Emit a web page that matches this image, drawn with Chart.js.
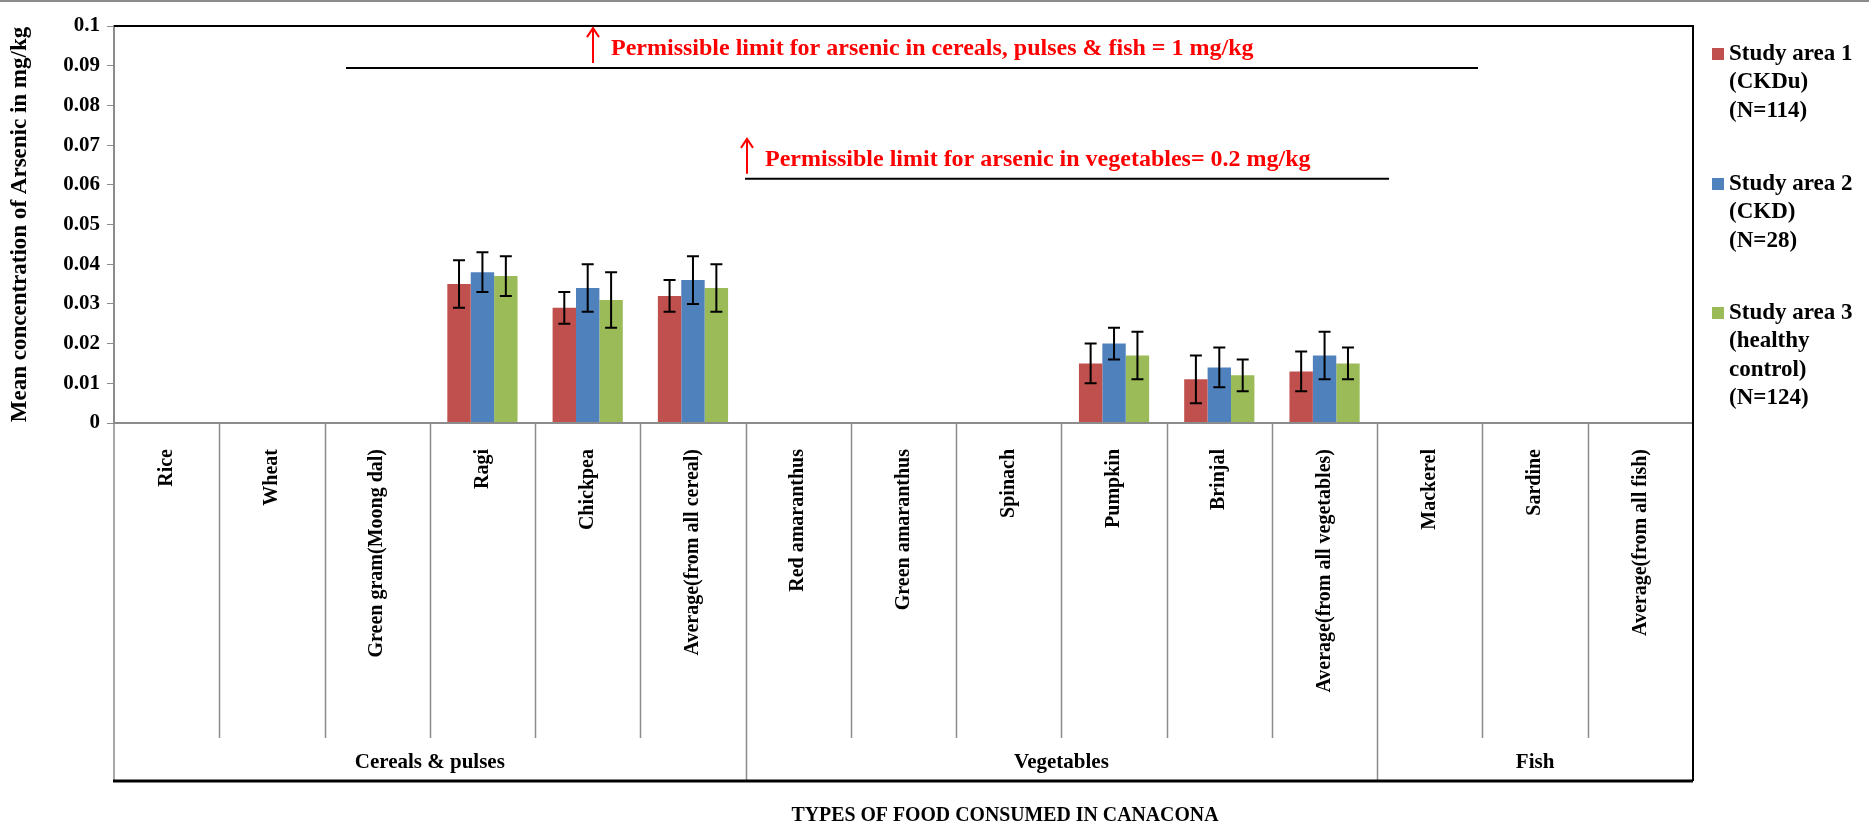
<!DOCTYPE html>
<html>
<head>
<meta charset="utf-8">
<title>Arsenic in food consumed in Canacona</title>
<script src="https://cdn.jsdelivr.net/npm/chart.js@4.4.1/dist/chart.umd.min.js"></script>
<style>
    html, body { margin: 0; padding: 0; background: #fff; }
    #myChart { display: block; }
</style>
</head>
<body>
<canvas id="myChart" width="1869" height="829"></canvas>
<script>
    var foods = ['Rice', 'Wheat', 'Green gram(Moong dal)', 'Ragi', 'Chickpea', 'Average(from all cereal)',
        'Red amaranthus', 'Green amaranthus', 'Spinach', 'Pumpkin', 'Brinjal', 'Average(from all vegetables)',
        'Mackerel', 'Sardine', 'Average(from all fish)'];
    var groups = ['Cereals & pulses', 'Vegetables', 'Fish'];
    var groupSizes = [6, 6, 3];

    // mean arsenic (mg/kg) and standard error per study area
    var area1 = [0, 0, 0, 0.035, 0.029, 0.032, 0, 0, 0, 0.015, 0.011, 0.013, 0, 0, 0];
    var area1Err = [0, 0, 0, 0.006, 0.004, 0.004, 0, 0, 0, 0.005, 0.006, 0.005, 0, 0, 0];
    var area2 = [0, 0, 0, 0.038, 0.034, 0.036, 0, 0, 0, 0.020, 0.014, 0.017, 0, 0, 0];
    var area2Err = [0, 0, 0, 0.005, 0.006, 0.006, 0, 0, 0, 0.004, 0.005, 0.006, 0, 0, 0];
    var area3 = [0, 0, 0, 0.037, 0.031, 0.034, 0, 0, 0, 0.017, 0.012, 0.015, 0, 0, 0];
    var area3Err = [0, 0, 0, 0.005, 0.007, 0.006, 0, 0, 0, 0.006, 0.004, 0.004, 0, 0, 0];

    var legendLines = [
        ['Study area 1', '(CKDu)', '(N=114)'],
        ['Study area 2', '(CKD)', '(N=28)'],
        ['Study area 3', '(healthy', 'control)', '(N=124)']
    ];
    var yTickLabels = ['0', '0.01', '0.02', '0.03', '0.04', '0.05', '0.06', '0.07', '0.08', '0.09', '0.1'];

    var SERIF = '"Liberation Serif", "Times New Roman", serif';

    // vertical error bars with caps on top of each bar
    var errorBars = {
        id: 'errorBars',
        afterDatasetsDraw: function (chart) {
            var ctx = chart.ctx, y = chart.scales.y;
            ctx.save();
            ctx.strokeStyle = '#000';
            ctx.lineWidth = 2;
            chart.data.datasets.forEach(function (ds, i) {
                var meta = chart.getDatasetMeta(i);
                meta.data.forEach(function (bar, j) {
                    var v = ds.data[j], e = ds.errors[j];
                    var top = y.getPixelForValue(v + e), bot = y.getPixelForValue(v - e);
                    ctx.beginPath();
                    ctx.moveTo(bar.x, top); ctx.lineTo(bar.x, bot);
                    ctx.moveTo(bar.x - 6, top); ctx.lineTo(bar.x + 6, top);
                    ctx.moveTo(bar.x - 6, bot); ctx.lineTo(bar.x + 6, bot);
                    ctx.stroke();
                });
            });
            ctx.restore();
        }
    };

    // category table under the plot, limit lines, legend and axis title
    var foodTable = {
        id: 'foodTable',
        afterDraw: function (chart) {
            var ctx = chart.ctx, a = chart.chartArea, y = chart.scales.y;
            var n = foods.length, w = (a.right - a.left) / n;
            var innerBottom = 738, tableBottom = 781;
            ctx.save();

            // frame line along the top of the figure
            ctx.strokeStyle = '#666';
            ctx.lineWidth = 1.5;
            ctx.beginPath(); ctx.moveTo(0, 1); ctx.lineTo(chart.width, 1); ctx.stroke();

            // category axis line and separators
            ctx.strokeStyle = '#8c8c8c';
            ctx.lineWidth = 2;
            ctx.beginPath(); ctx.moveTo(a.left, a.bottom); ctx.lineTo(a.right, a.bottom); ctx.stroke();
            ctx.lineWidth = 1.5;
            ctx.beginPath();
            ctx.moveTo(a.left, a.bottom); ctx.lineTo(a.left, tableBottom);
            var idx = 0, edges = {};
            groupSizes.forEach(function (s) { idx += s; edges[idx] = true; });
            for (var i = 1; i < n; i++) {
                var x = Math.round(a.left + i * w) + 0.5;
                ctx.moveTo(x, a.bottom);
                ctx.lineTo(x, edges[i] ? tableBottom : innerBottom);
            }
            ctx.stroke();

            // plot frame top and right
            ctx.strokeStyle = '#000';
            ctx.lineWidth = 2;
            ctx.beginPath();
            ctx.moveTo(a.left, a.top); ctx.lineTo(a.right, a.top); ctx.lineTo(a.right, tableBottom);
            ctx.stroke();
            ctx.lineWidth = 3;
            ctx.beginPath(); ctx.moveTo(a.left - 1, tableBottom); ctx.lineTo(a.right, tableBottom); ctx.stroke();

            // rotated food names
            ctx.fillStyle = '#000';
            ctx.font = 'bold 20px ' + SERIF;
            ctx.textAlign = 'right';
            ctx.textBaseline = 'middle';
            foods.forEach(function (f, k) {
                ctx.save();
                ctx.translate(a.left + (k + 0.5) * w, 449);
                ctx.rotate(-Math.PI / 2);
                ctx.fillText(f, 0, 0);
                ctx.restore();
            });

            // group names
            ctx.textAlign = 'center';
            ctx.font = 'bold 21px ' + SERIF;
            var start = 0;
            groups.forEach(function (g, k) {
                var cx = a.left + (start + groupSizes[k] / 2) * w;
                ctx.fillText(g, cx, 763);
                start += groupSizes[k];
            });

            // x axis title
            ctx.font = 'bold 20px ' + SERIF;
            ctx.fillText('TYPES OF FOOD CONSUMED IN CANACONA', 1005, 816, 427);

            // permissible limit markers
            function limit(val, x0, x1, ax, text) {
                var ly = y.getPixelForValue(val);
                ctx.strokeStyle = '#000';
                ctx.lineWidth = 2;
                ctx.beginPath(); ctx.moveTo(x0, ly); ctx.lineTo(x1, ly); ctx.stroke();
                ctx.strokeStyle = '#ff0000';
                ctx.lineWidth = 2;
                ctx.beginPath();
                ctx.moveTo(ax, ly - 5); ctx.lineTo(ax, ly - 40);
                ctx.moveTo(ax - 6, ly - 31); ctx.lineTo(ax, ly - 40); ctx.lineTo(ax + 6, ly - 31);
                ctx.stroke();
                ctx.fillStyle = '#ff0000';
                ctx.font = 'bold 24px ' + SERIF;
                ctx.textAlign = 'left';
                ctx.textBaseline = 'alphabetic';
                ctx.fillText(text, ax + 18, ly - 13);
            }
            limit(0.0894, 346, 1478, 593, 'Permissible limit for arsenic in cereals, pulses & fish = 1 mg/kg');
            limit(0.0615, 745, 1389, 747, 'Permissible limit for arsenic in vegetables= 0.2 mg/kg');

            // legend
            ctx.font = 'bold 23px ' + SERIF;
            ctx.textBaseline = 'middle';
            ctx.textAlign = 'left';
            var tops = [54, 184, 313];
            chart.data.datasets.forEach(function (ds, k) {
                ctx.fillStyle = ds.backgroundColor;
                ctx.fillRect(1712, tops[k] - 6, 12, 12);
                ctx.fillStyle = '#000';
                legendLines[k].forEach(function (line, m) {
                    ctx.fillText(line, 1729, tops[k] + m * 28.5);
                });
            });
            ctx.restore();
        }
    };

    var ctx = document.getElementById('myChart').getContext('2d');

    var data = {
        labels: foods,
        datasets: [
            {label: legendLines[0].join(' '), data: area1, errors: area1Err, backgroundColor: '#C0504D'},
            {label: legendLines[1].join(' '), data: area2, errors: area2Err, backgroundColor: '#4F81BD'},
            {label: legendLines[2].join(' '), data: area3, errors: area3Err, backgroundColor: '#9BBB59'}
        ]
    };

    var myBarChart = new Chart(ctx, {
        type: 'bar',
        data: data,
        plugins: [errorBars, foodTable],
        options: {
            responsive: false,
            animation: false,
            devicePixelRatio: 1,
            layout: {padding: {left: 0, top: 26, right: 176, bottom: 406}},
            datasets: {bar: {categoryPercentage: 0.667, barPercentage: 1.0, borderWidth: 0}},
            plugins: {legend: {display: false}, tooltip: {enabled: false}},
            scales: {
                x: {display: false},
                y: {
                    min: 0,
                    max: 0.1,
                    afterFit: function (scale) { scale.width = 114; },
                    ticks: {
                        stepSize: 0.01,
                        color: '#000',
                        padding: 7,
                        font: {family: SERIF, size: 21, weight: 'bold'},
                        callback: function (value, index) { return yTickLabels[index]; }
                    },
                    grid: {drawOnChartArea: false, drawTicks: true, tickLength: 7, color: '#8c8c8c'},
                    border: {color: '#8c8c8c', width: 2},
                    title: {
                        display: true,
                        text: 'Mean concentration of Arsenic in mg/kg',
                        color: '#000',
                        padding: {top: 6, bottom: 0},
                        font: {family: SERIF, size: 23, weight: 'bold'}
                    }
                }
            }
        }
    });
</script>
</body>
</html>
